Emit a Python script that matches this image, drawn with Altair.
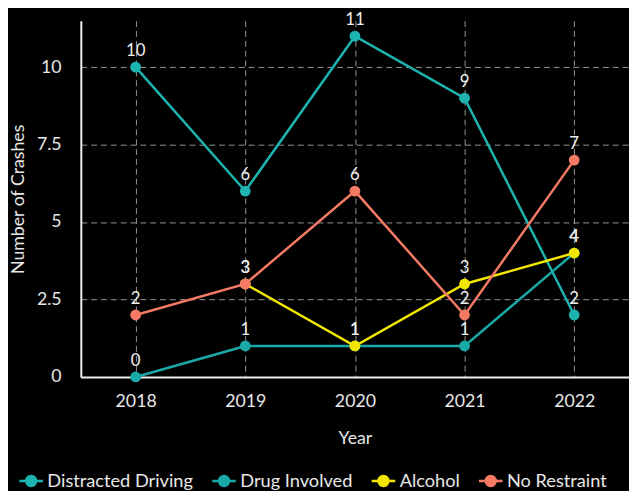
import altair as alt
import pandas as pd

years = ["2018", "2019", "2020", "2021", "2022"]
series = ["Distracted Driving", "Drug Involved", "Alcohol", "No Restraint"]
distracted = [10, 6, 11, 9, 2]
drug = [0, 1, 1, 1, 4]
alcohol = [None, 3, 1, 3, 4]
no_restraint = [2, 3, 6, 2, 7]
colors = ["#1db3b0", "#19aaa8", "#f2e600", "#f47a66"]

rows = []
for name, vals in zip(series, [distracted, drug, alcohol, no_restraint]):
    for y, v in zip(years, vals):
        if v is not None:
            rows.append({"Year": y, "Series": name, "Crashes": v})
df = pd.DataFrame(rows)

FONT = "Lato"
TXT = "#e8e8e8"
legend_symbol = "M-1,0H-0.42M0.42,0H1M0.42,0A0.42,0.42,0,1,1,-0.42,0A0.42,0.42,0,1,1,0.42,0Z"

color = alt.Color(
    "Series:N",
    scale=alt.Scale(domain=series, range=colors),
    sort=series,
    legend=alt.Legend(
        title=None, orient="none", direction="horizontal", columns=4,
        legendX=-64, legendY=454, symbolType=legend_symbol, symbolSize=576,
        symbolStrokeWidth=2.5, labelFontSize=18.5, labelColor=TXT,
        labelFont=FONT, columnPadding=13, labelOffset=3, symbolOffset=0,
    ),
)

base = alt.Chart(df).encode(
    x=alt.X("Year:O", sort=years, scale=alt.Scale(type="point", padding=0.5),
            axis=alt.Axis(title="Year", labelAngle=0, ticks=False, labelPadding=16,
                          titlePadding=20)),
    y=alt.Y("Crashes:Q", scale=alt.Scale(domain=[0, 11.5], nice=False),
            axis=alt.Axis(title="Number of Crashes", values=[0, 2.5, 5, 7.5, 10],
                          format=".1~f", ticks=False, labelPadding=20, titlePadding=9)),
    color=color,
)

lines = base.mark_line(strokeWidth=2.5)
pts = base.mark_point(filled=True, size=120, opacity=1)
labels = base.mark_text(dy=-16, fontSize=17, font=FONT, color="#f0f0f0").encode(
    text="Crashes:Q", color=alt.value("#f0f0f0"))

chart = alt.layer(lines, pts, labels).properties(
    width=557, height=362, background="black",
    autosize=alt.AutoSizeParams(type="none"),
    padding={"left": 74, "top": 9, "right": 0, "bottom": 112},
).configure_view(stroke=None).configure_axis(
    labelFont=FONT, titleFont=FONT, labelFontSize=18, titleFontSize=18,
    labelColor=TXT, titleColor=TXT, titleFontWeight="normal",
    domainColor="#f0f0f0", domainWidth=2, grid=True, gridColor="#bbbbbb",
    gridDash=[6, 4], gridWidth=1, gridOpacity=0.8,
)

chart.save("out.html", embed_options={"renderer": "svg", "actions": False})
